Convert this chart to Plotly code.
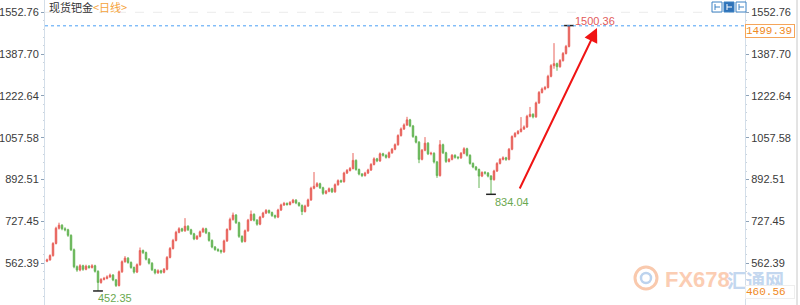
import plotly.graph_objects as go

# ---------------- data ----------------
closes = [575, 592, 640, 700, 712, 698, 694, 672, 615, 548,
          535, 552, 538, 550, 545, 552, 530, 486, 498, 502,
          508, 515, 496, 474, 528, 568, 582, 565, 545, 527,
          556, 612, 604, 578, 562, 536, 524, 532, 526, 538,
          585, 620, 652, 684, 698, 690, 708, 694, 678, 658,
          668, 686, 698, 682, 652, 626, 616, 612, 607, 650,
          695, 735, 752, 722, 668, 648, 690, 732, 755, 732,
          716, 744, 760, 770, 762, 750, 744, 772, 792, 798,
          794, 802, 811, 800, 790, 766, 788, 812, 858, 866,
          876, 860, 838, 846, 856, 844, 872, 888, 884, 918,
          928, 936, 968, 932, 914, 908, 918, 930, 952, 974,
          966, 994, 988, 980, 998, 1012, 1030, 1066, 1092, 1108,
          1128, 1104, 1062, 1040, 972, 1008, 1036, 994, 996, 962,
          908, 1030, 998, 964, 972, 988, 980, 978, 996, 1014,
          988, 956, 942, 932, 906, 920, 918, 906, 892, 926,
          956, 972, 978, 972, 1012, 1062, 1074, 1082, 1092, 1100,
          1142, 1150, 1140, 1195, 1236, 1250, 1256, 1300, 1342, 1350,
          1338, 1362, 1390, 1418, 1499.39]
first_open = 570
highs = [580, 597, 645, 706, 722, 716, 704, 698, 676, 620,
         553, 558, 556, 556, 555, 558, 556, 534, 503, 508,
         514, 521, 519, 500, 533, 573, 590, 586, 569, 549,
         561, 624, 616, 608, 582, 566, 540, 538, 536, 543,
         590, 626, 658, 690, 704, 702, 740, 712, 698, 682,
         673, 691, 703, 702, 686, 656, 630, 621, 616, 655,
         700, 742, 762, 756, 726, 672, 695, 737, 770, 759,
         736, 749, 765, 776, 774, 766, 754, 777, 797, 804,
         802, 807, 816, 815, 804, 794, 793, 817, 864, 922,
         882, 880, 864, 851, 861, 860, 877, 893, 892, 923,
         934, 942, 997, 972, 936, 918, 923, 935, 957, 980,
         978, 999, 998, 992, 1003, 1017, 1035, 1071, 1098, 1114,
         1140, 1132, 1108, 1066, 1044, 1013, 1060, 1040, 1002, 1000,
         966, 1048, 1034, 1002, 977, 993, 992, 985, 1001, 1020,
         1018, 992, 960, 946, 936, 925, 926, 922, 910, 931,
         961, 977, 984, 982, 1017, 1067, 1080, 1088, 1139, 1106,
         1148, 1179, 1154, 1200, 1242, 1256, 1262, 1306, 1348, 1431,
         1354, 1368, 1396, 1424, 1500.36]
lows = [566, 572, 588, 636, 695, 692, 688, 666, 610, 542,
        528, 530, 532, 534, 540, 541, 525, 452.35, 481, 494,
        498, 504, 491, 468, 470, 524, 564, 560, 540, 521,
        523, 552, 598, 573, 557, 531, 518, 520, 520, 522,
        534, 581, 616, 648, 680, 685, 686, 689, 673, 653,
        654, 664, 682, 677, 647, 621, 611, 606, 600, 603,
        646, 691, 730, 717, 662, 642, 644, 686, 728, 727,
        710, 712, 740, 756, 757, 745, 738, 740, 768, 788,
        789, 790, 798, 795, 785, 752, 762, 784, 808, 854,
        862, 855, 832, 834, 842, 839, 840, 868, 879, 880,
        914, 924, 932, 927, 909, 902, 904, 914, 926, 948,
        961, 962, 983, 975, 976, 994, 1008, 1026, 1062, 1088,
        1104, 1099, 1057, 1035, 957, 968, 1004, 989, 988, 956,
        899, 904, 993, 958, 960, 968, 975, 972, 974, 992,
        983, 951, 937, 927, 859, 902, 912, 901, 834.04, 888,
        922, 952, 968, 966, 968, 1008, 1058, 1070, 1078, 1088,
        1096, 1138, 1134, 1136, 1191, 1232, 1245, 1252, 1296, 1330,
        1322, 1334, 1358, 1386, 1414]
opens = [first_open] + closes[:-1]
days = list(range(len(closes)))

y_ticks = [562.39, 727.45, 892.51, 1057.58, 1222.64, 1387.70, 1552.76]
last_price = 1499.39
axis_floor = 460.56
title_name = "现货钯金"
title_period = "&lt;日线&gt;"

# ---------------- layout constants ----------------
W, H = 800, 305
ML, MR, MT, MB = 45, 55, 0, 0
PW = W - ML - MR
X_RANGE = [-0.667, 232.667]
Y_RANGE = [396.96, 1601.33]

def px(x):
    return (x - ML) / PW

def py(y):
    return 1 - (y - MT) / (H - MT - MB)

RED = "#e8625b"
GREEN = "#66b556"
FONT = "Liberation Sans, Arial, sans-serif"

fig = go.Figure()
fig.add_trace(go.Candlestick(
    x=days, open=opens, high=highs, low=lows, close=closes,
    increasing=dict(line=dict(color=RED, width=1), fillcolor=RED),
    decreasing=dict(line=dict(color=GREEN, width=1), fillcolor=GREEN),
    whiskerwidth=0, hoverinfo="skip", showlegend=False,
))

# extreme markers
i_lo = lows.index(min(lows))
i_lo2 = lows.index(834.04)
i_hi = highs.index(max(highs))
fig.add_trace(go.Scatter(
    x=[i_lo, i_lo2, i_hi], y=[lows[i_lo], lows[i_lo2], highs[i_hi]],
    mode="markers",
    marker=dict(symbol="line-ew", size=7, line=dict(color="#222", width=1.5)),
    hoverinfo="skip", showlegend=False,
))
# invisible trace for right axis
fig.add_trace(go.Scatter(x=[0], y=[1000], yaxis="y2", mode="markers",
                         marker=dict(opacity=0), hoverinfo="skip", showlegend=False))

step = (y_ticks[1] - y_ticks[0]) / 5
minor_vals = [y_ticks[0] + k * step for k in range(-5, 31) if k % 5 != 0]
tick_text = ["%.2f" % v for v in y_ticks]
axis_common = dict(range=Y_RANGE, tickvals=y_ticks, ticktext=tick_text,
                   showgrid=False, zeroline=False, showline=True,
                   linecolor="#d3dee9", linewidth=1, ticks="outside",
                   ticklen=3, tickcolor="#8da2b8",
                   minor=dict(tickvals=minor_vals, ticks="outside", ticklen=1,
                              tickcolor="#c9d3dd", showgrid=False),
                   tickfont=dict(family=FONT, size=11, color="#3a3a3a"),
                   fixedrange=True)

fig.update_layout(
    width=W, height=H,
    margin=dict(l=ML, r=MR, t=MT, b=MB),
    paper_bgcolor="white", plot_bgcolor="white",
    xaxis=dict(range=X_RANGE, showgrid=False, zeroline=False,
               showticklabels=False, showline=False, ticks="",
               rangeslider=dict(visible=False), fixedrange=True),
    yaxis=dict(side="left", **axis_common),
    yaxis2=dict(side="right", overlaying="y", **axis_common),
    showlegend=False,
)

shapes = []
# faint top grid line
shapes.append(dict(type="line", xref="paper", yref="y", x0=0, x1=1,
                   y0=y_ticks[-1], y1=y_ticks[-1],
                   line=dict(color="#ececec", width=1, dash="dash")))
# last price dotted line
shapes.append(dict(type="line", xref="paper", yref="y", x0=0, x1=1,
                   y0=last_price, y1=last_price,
                   line=dict(color="#4a9ff5", width=1, dash="dot")))
# right edge strip line
shapes.append(dict(type="line", xref="paper", yref="paper",
                   x0=px(797), x1=px(797), y0=0, y1=1,
                   line=dict(color="#c8c8c8", width=1)))
# toolbar icons
for k, (x0, filled) in enumerate([(712, False), (724, True), (736, False)]):
    shapes.append(dict(type="rect", xref="paper", yref="paper",
                       x0=px(x0), x1=px(x0 + 10), y0=py(12), y1=py(2),
                       line=dict(color="#3d82c4", width=1),
                       fillcolor="#2f72b8" if filled else "#ffffff"))
    shapes.append(dict(type="line", xref="paper", yref="paper",
                       x0=px(x0 + 3), x1=px(x0 + 3), y0=py(10), y1=py(4),
                       line=dict(color="#ffffff" if filled else "#3d82c4", width=1)))
    shapes.append(dict(type="line", xref="paper", yref="paper",
                       x0=px(x0 + 3), x1=px(x0 + 8), y0=py(7), y1=py(7),
                       line=dict(color="#ffffff" if filled else "#3d82c4", width=1)))
# watermark logo rings
shapes.append(dict(type="circle", xref="paper", yref="paper", layer="below",
                   x0=px(635), x1=px(657), y0=py(289), y1=py(267),
                   line=dict(color="#f9c9ad", width=3)))
shapes.append(dict(type="circle", xref="paper", yref="paper", layer="below",
                   x0=px(641), x1=px(651), y0=py(283), y1=py(273),
                   line=dict(color="#bcd3ee", width=2.5)))
fig.update_layout(shapes=shapes)

ann = []
# watermark text first so the labels are drawn over it
ann.append(dict(xref="paper", yref="paper", x=px(663), y=py(279), xanchor="left",
                yanchor="middle", showarrow=False, text="<b>FX678</b>",
                font=dict(family="Liberation Sans Narrow, Arial Narrow, sans-serif",
                          size=22, color="#fbcdb3")))
ann.append(dict(xref="paper", yref="paper", x=px(725), y=py(279), xanchor="left",
                yanchor="middle", showarrow=False, text="<b>汇通网</b>",
                font=dict(family="Noto Sans CJK SC", size=19, color="#c3d7ef")))
ann.append(dict(xref="paper", yref="paper", x=px(47), y=py(7), xanchor="left",
                yanchor="middle", showarrow=False,
                text=title_name + "<span style='color:#f5a33a'>" + title_period + "</span>",
                font=dict(family="Noto Sans CJK SC", size=11, color="#333")))
# last price box
ann.append(dict(xref="paper", yref="y", x=px(745), y=last_price, xanchor="left",
                yanchor="middle", showarrow=False, text="%.2f" % last_price,
                font=dict(family="Liberation Mono, monospace", size=11, color="#f08a24"),
                bordercolor="#f5a55a", borderwidth=1, borderpad=0,
                bgcolor="white", width=48, align="left", yshift=-5))
# floor label
ann.append(dict(xref="paper", yref="paper", x=px(745), y=py(292), xanchor="left",
                yanchor="middle", showarrow=False, text="%.2f" % axis_floor,
                font=dict(family="Liberation Mono, monospace", size=11, color="#f08a24"),
                bordercolor="#eeeeee", borderwidth=1, borderpad=0,
                bgcolor="white", width=48, align="left"))
# extreme labels
ann.append(dict(x=i_lo, y=lows[i_lo], xanchor="left", yanchor="middle",
                showarrow=False, text="%.2f" % lows[i_lo], xshift=-2, yshift=-7,
                font=dict(family=FONT, size=11, color="#6aa84f")))
ann.append(dict(x=i_lo2, y=lows[i_lo2], xanchor="left", yanchor="middle",
                showarrow=False, text="%.2f" % lows[i_lo2], xshift=2, yshift=-8,
                font=dict(family=FONT, size=11, color="#6aa84f")))
ann.append(dict(x=i_hi, y=highs[i_hi], xanchor="left", yanchor="middle",
                showarrow=False, text="%.2f" % highs[i_hi], xshift=4, yshift=5,
                font=dict(family=FONT, size=11, color="#e25a5a")))
# red arrow (tail offset in pixels)
ann.append(dict(xref="paper", yref="paper", x=px(597), y=py(28),
                ax=519 - 597, ay=190 - 28, axref="pixel", ayref="pixel",
                showarrow=True, arrowhead=2, arrowsize=1.4, arrowwidth=2,
                arrowcolor="#f01414", text=""))
fig.update_layout(annotations=ann)

fig.write_html("out.html")
